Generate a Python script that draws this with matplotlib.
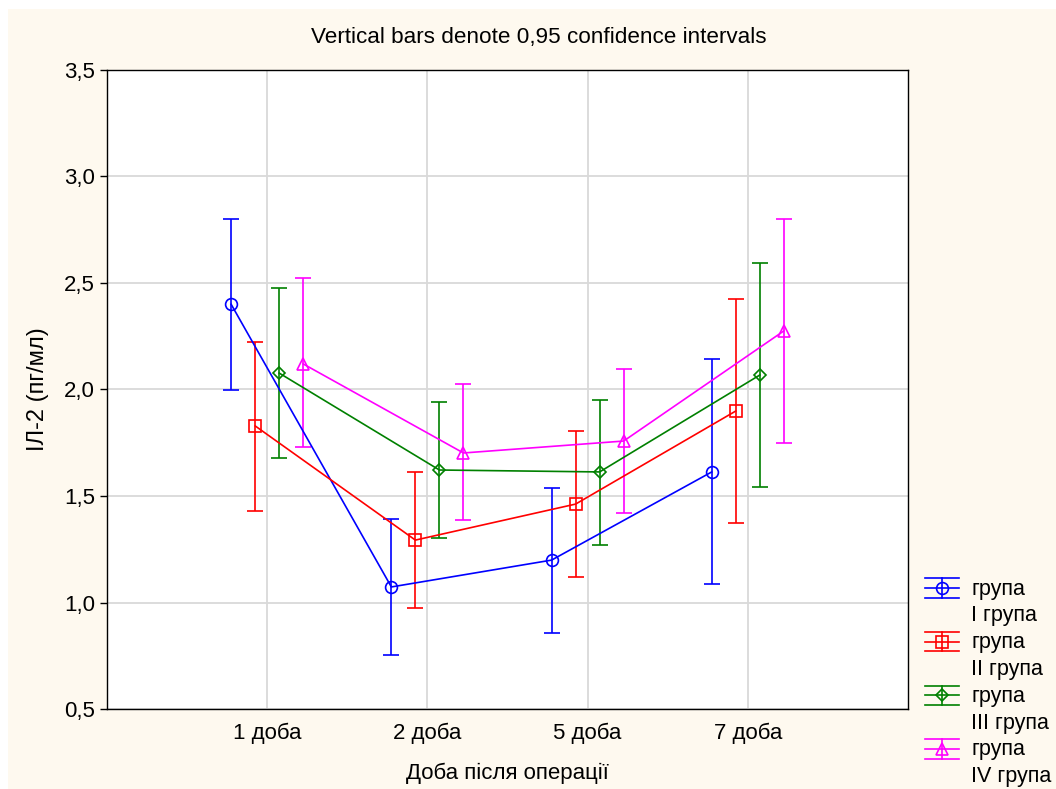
import matplotlib
matplotlib.use("Agg")
import matplotlib.pyplot as plt
from matplotlib.patches import Rectangle
from matplotlib.lines import Line2D
from matplotlib.legend_handler import HandlerBase
import numpy as np

days = ["1 доба", "2 доба", "5 доба", "7 доба"]
groups = ["I група", "II група", "III група", "IV група"]
colors = ["#0000FF", "#FF0000", "#008000", "#FF00FF"]
markers = ["o", "s", "D", "^"]
offsets = [-0.225, -0.075, 0.075, 0.225]

means = [
    [2.40, 1.073, 1.199, 1.613],
    [1.829, 1.293, 1.462, 1.899],
    [2.077, 1.622, 1.613, 2.068],
    [2.12, 1.702, 1.758, 2.275],
]
upper = [
    [2.80, 1.392, 1.538, 2.143],
    [2.223, 1.613, 1.805, 2.425],
    [2.477, 1.941, 1.951, 2.594],
    [2.523, 2.026, 2.096, 2.80],
]
lower = [
    [1.998, 0.754, 0.857, 1.087],
    [1.430, 0.974, 1.120, 1.373],
    [1.678, 1.303, 1.270, 1.542],
    [1.730, 1.387, 1.420, 1.749],
]

plt.rcParams['font.family'] = ['Liberation Sans', 'DejaVu Sans']

msizes = {"o": 8.5, "s": 8.5, "D": 6.3, "^": 8.5}


class ErrHandler(HandlerBase):
    def create_artists(self, legend, orig_handle, xdescent, ydescent, width,
                       height, fontsize, trans):
        c = orig_handle.get_color()
        mk = orig_handle.get_marker()
        ms = orig_handle.get_markersize()
        cy = height / 2 - ydescent - 0.8
        x0 = -xdescent
        x1 = x0 + width
        xm = (x0 + x1) / 2
        d = 7.0
        arts = [
            Line2D([x0, x1], [cy, cy], color=c, lw=1.2),
            Line2D([x0, x1], [cy + d, cy + d], color=c, lw=1.2),
            Line2D([x0, x1], [cy - d, cy - d], color=c, lw=1.2),
            Line2D([xm, xm], [cy - d, cy + d], color=c, lw=1.2),
            Line2D([xm], [cy], color=c, marker=mk, markersize=ms,
                   markerfacecolor="none", markeredgecolor=c, markeredgewidth=1.2,
                   linestyle="none"),
        ]
        for a in arts:
            a.set_transform(trans)
        return arts


fig = plt.figure(figsize=(10.56, 7.89), dpi=100)
fig.patch.set_facecolor("white")
bg = Rectangle((8 / 1056, 0), 1 - 8 / 1056, 1 - 9 / 789, transform=fig.transFigure,
               facecolor="#FEF9EF", edgecolor="none", zorder=-10)
fig.patches.append(bg)

ax = fig.add_axes([107 / 1056, 1 - 709 / 789, (908 - 107) / 1056, (709 - 70) / 789])
ax.set_facecolor("white")

x = np.arange(1, len(days) + 1)
handles, labels, hmap = [], [], {}
for i in range(4):
    m = np.array(means[i])
    yerr = np.vstack([m - np.array(lower[i]), np.array(upper[i]) - m])
    ax.errorbar(x + offsets[i], m, yerr=yerr, color=colors[i], marker=markers[i],
                markersize=msizes[markers[i]], markerfacecolor="none",
                markeredgecolor=colors[i], markeredgewidth=1.2, linewidth=1.2,
                elinewidth=1.2, capsize=6, capthick=1.2, zorder=3)
    h = Line2D([], [], color=colors[i], marker=markers[i], markersize=msizes[markers[i]])
    hmap[h] = ErrHandler()
    handles.append(h)
    labels.append("група")
    handles.append(Line2D([], [], linestyle="none"))
    labels.append(groups[i])

ax.set_xlim(0, 5)
ax.set_ylim(0.5, 3.5)
ax.set_xticks(x)
ax.set_xticklabels(days)
yt = np.arange(0.5, 3.51, 0.5)
ax.set_yticks(yt)
ax.set_yticklabels([f"{v:.1f}".replace(".", ",") for v in yt])
ax.grid(True, color="#D9D9D9", linewidth=1.3, zorder=0)
ax.set_axisbelow(True)
ax.tick_params(axis="both", labelsize=16, direction="out", length=5, width=1, color="black")
ax.tick_params(axis="x", length=0, pad=10)
for s in ax.spines.values():
    s.set_linewidth(1.0)
    s.set_color("black")

ax.set_xlabel("Доба після операції", fontsize=16)
ax.xaxis.set_label_coords(0.5, (709 - 773) / 639)
ax.xaxis.label.set_va("center")
ax.set_ylabel("ІЛ-2 (пг/мл)", fontsize=17)
ax.yaxis.set_label_coords((38 - 107) / 801, 0.5)
ax.yaxis.label.set_va("center")
fig.text(539 / 1056, 1 - 38 / 789,
         "Vertical bars denote 0,95 confidence intervals",
         fontsize=16.2, ha="center", va="center")

leg = ax.legend(handles, labels, handler_map=hmap,
                loc="upper left", bbox_to_anchor=((925 - 107) / 801, (709 - 578.5) / 639),
                bbox_transform=ax.transAxes, frameon=False,
                fontsize=15.5, handlelength=1.6, handletextpad=0.55,
                labelspacing=0.27, borderaxespad=0, borderpad=0)

fig.savefig("out.png", dpi=100, facecolor=fig.get_facecolor())
